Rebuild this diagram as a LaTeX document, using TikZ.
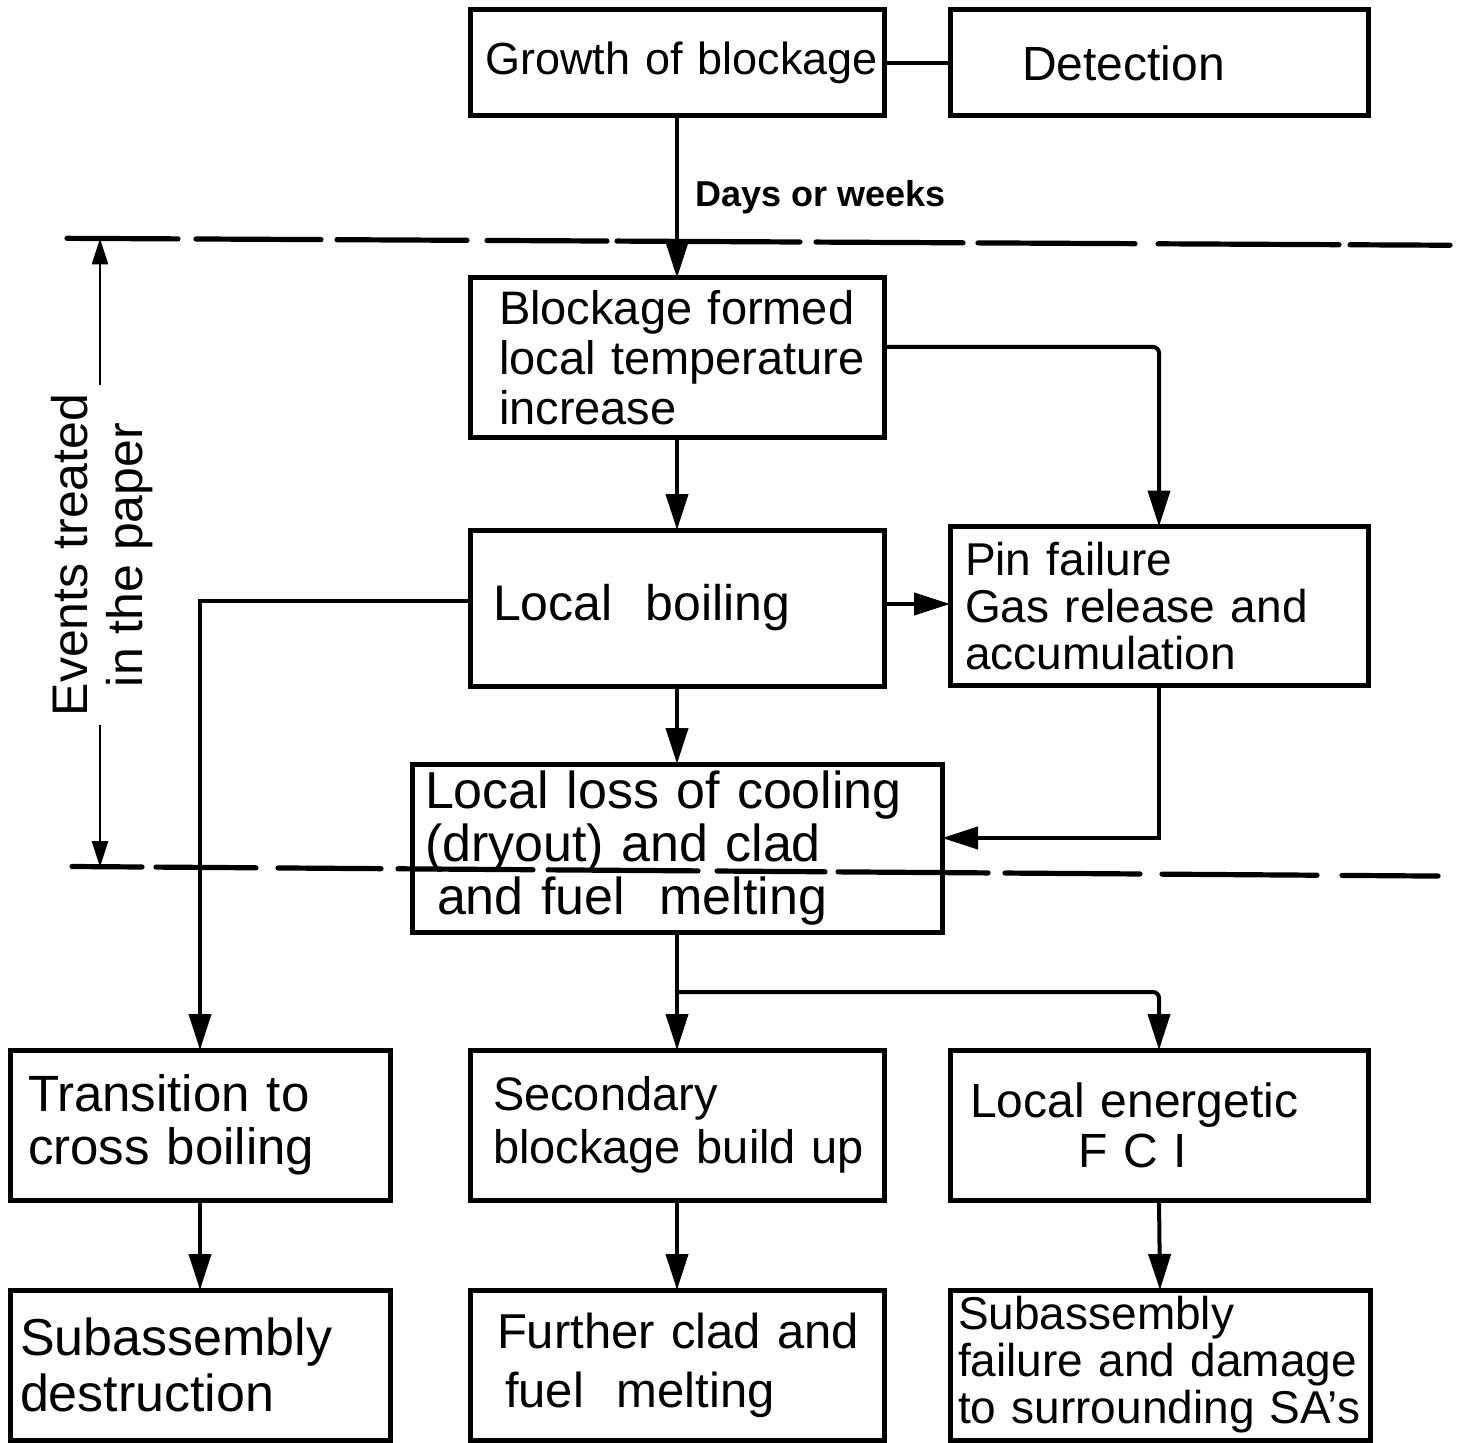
\documentclass[tikz,border=0pt]{standalone}
\usepackage{fontspec}
\setmainfont{Liberation Sans}
\usetikzlibrary{arrows.meta}
\newcommand{\fz}[2]{\fontsize{#1}{#2}\selectfont}
\newcommand{\tl}[1]{\mbox{#1}}
\begin{document}
\begin{tikzpicture}[x=0.5pt,y=-0.5pt,
  box/.style={draw, line width=2.5pt, align=left, inner ysep=0pt, outer sep=0pt},
  conn/.style={line width=2pt},
  arr/.style={line width=2pt, -{Triangle[length=18pt,width=11pt]}},
  darr/.style={line width=1.4pt, -{Triangle[length=13pt,width=8pt]}},
  dashseg/.style={line width=2.6pt, line cap=round}]
\path[fill=white] (0,0) rectangle (1460,1443);
\useasboundingbox (0,0) rectangle (1460,1443);

% boxes
\node[box, minimum height=53pt, inner xsep=7.5pt, text width=192pt, font=\fz{22.5}{24}] (growth) at (677,63) {\tl{Growth of blockage}};
\node[box, minimum height=53pt, inner xsep=36pt, text width=137pt, font=\fz{24}{25}] (detect) at (1159,63) {\tl{Detection}};
\node[box, minimum height=80pt, inner xsep=14.5pt, text width=178pt, font=\fz{23.5}{25}] (block) at (677,358) {\tl{Blockage formed}\\\tl{local temperature}\\\tl{increase}};
\node[box, minimum height=78pt, inner xsep=11.5pt, text width=184pt, font=\fz{25}{26}] (boil) at (677,608) {\tl{Local\ \ boiling}};
\node[box, minimum height=79.5pt, inner xsep=7.5pt, text width=194pt, font=\fz{23}{23.5}] (pin) at (1159,606) {\tl{Pin failure}\\\tl{Gas release and}\\\tl{accumulation}};
\node[box, minimum height=84pt, inner xsep=6.5pt, text width=252pt, font=\fz{26}{26.5}] (loss) at (677,848) {\tl{Local loss of cooling}\\\tl{(dryout) and clad}\\\tl{\hspace*{6pt}and fuel\ \ melting}};
\node[box, minimum height=75pt, inner xsep=9pt, text width=172pt, font=\fz{25.5}{26.5}] (trans) at (200,1125) {\tl{Transition to}\\\tl{cross boiling}};
\node[box, minimum height=75pt, inner xsep=11.5pt, text width=184pt, font=\fz{23.5}{26.5}] (second) at (677,1125) {\tl{Secondary}\\\tl{blockage build up}};
\node[box, minimum height=75pt, inner xsep=10pt, text width=189pt, font=\fz{24}{25}] (fci) at (1159,1125) {\tl{Local energetic}\\\tl{\hspace*{54pt}F C I}};
\node[box, minimum height=75pt, inner xsep=5pt, text width=180pt, font=\fz{26}{28}] (subdest) at (200,1365) {\tl{Subassembly}\\\tl{destruction}};
\node[box, minimum height=75pt, inner xsep=13.5pt, text width=180pt, font=\fz{24.5}{29.5}] (further) at (677,1365) {\tl{Further clad and}\\\tl{\hspace*{4pt}fuel\ \ melting}};
\node[box, minimum height=75pt, inner xsep=4pt, text width=202pt, font=\fz{23}{23.5}] (subfail) at (1160,1365) {\tl{Subassembly}\\\tl{failure and damage}\\\tl{to surrounding SA's}};

% connectors
\draw[conn] (growth.east) -- (detect.west);
\draw[arr] (growth.south) -- node[pos=0.5, anchor=west, xshift=5pt, font=\bfseries\fz{18}{20}] (days) {Days or weeks} (block.north);
\draw[arr, rounded corners=3pt] ([yshift=5.5pt]block.east) -| (pin.north);
\draw[arr] (block.south) -- (boil.north);
\draw[arr] ([yshift=2pt]boil.east) -- ([yshift=2pt]boil.east -| pin.west);
\draw[arr] ([yshift=3.5pt]boil.west) -| (trans.north);
\draw[arr] (boil.south) -- (loss.north);
\draw[arr] (pin.south) |- ([yshift=5pt]loss.east);
\draw[arr] (loss.south) -- (second.north);
\coordinate (br) at (677,992);
\draw[arr, rounded corners=3pt] (br) -| (fci.north);
\draw[arr] (trans.south) -- (subdest.north);
\draw[arr] (second.south) -- (further.north);
\draw[arr] (fci.south) -- (subfail.north);

% dashed boundaries
\foreach \a/\b in {67/178,196/321,337/467,487/607,617/800,816/963,978/1135,1158/1339,1350/1450}
  \draw[dashseg] ({\a},{238+\a*0.005}) -- ({\b},{238+\b*0.005});
\foreach \a/\b in {72/142,156/256,278/381,398/533,548/698,717/825,838/988,1005/1140,1162/1317,1342/1438}
  \draw[dashseg] ({\a},{866+\a*0.007}) -- ({\b},{866+\b*0.007});

% dimension label
\coordinate (dtop) at (100,238.5);
\coordinate (dbot) at (100,867);
\node[rotate=90, align=center, font=\fz{25}{27.5}, inner sep=4pt] (evt) at (102,555) {Events treated\\in the paper};
\draw[darr] (evt.east -| dtop) -- (dtop);
\draw[darr] (evt.west -| dbot) -- (dbot);
\end{tikzpicture}
\end{document}
